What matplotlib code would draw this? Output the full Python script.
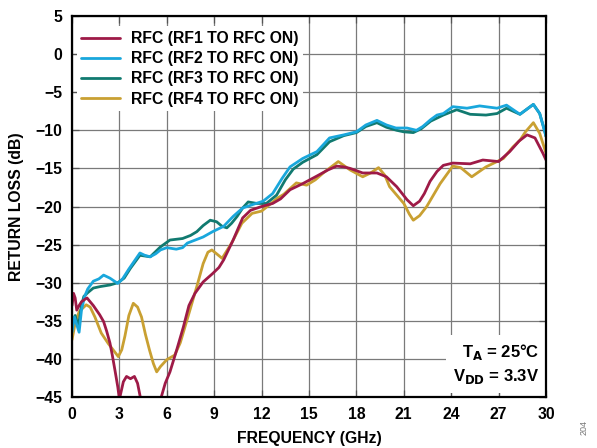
import matplotlib
matplotlib.use("Agg")
import matplotlib.pyplot as plt

# return loss vs frequency, one trace per RFx -> RFC path
rf1_freq = [0, 0.1, 0.2, 0.3, 0.45, 0.6, 0.8, 0.95, 1.15, 1.35, 1.55, 1.75, 2.0, 2.2,
            2.4, 2.55, 2.72, 2.9, 3.0, 3.25, 3.45, 3.7, 3.95, 4.15, 4.35, 4.5, 5.0, 5.5,
            5.65, 5.9, 6.2, 6.6, 7.05, 7.4, 7.78, 8.3, 8.9, 9.3, 9.6, 10.2, 10.8, 11.3,
            12.0, 12.7, 13.2, 13.8, 14.6, 15.5, 16.2, 16.75, 17.2, 17.6, 18.4, 19.3, 19.9,
            20.55, 21.2, 21.6, 22.0, 22.3, 22.66, 23.1, 23.5, 24.1, 25.2, 26.0, 27.0,
            27.7, 28.3, 28.8, 29.3, 29.8, 30.0]
rf1_loss = [-33.0, -31.4, -32.0, -33.6, -33.0, -32.5, -32.2, -32.0, -32.5, -33.0, -33.6,
            -34.2, -35.1, -36.4, -37.9, -39.5, -41.5, -43.7, -45.3, -43.0, -42.3, -42.6,
            -42.3, -43.2, -45.3, -47.0, -50.0, -47.0, -45.0, -43.2, -41.7, -39.0, -35.8,
            -33.0, -31.4, -29.9, -28.8, -28.0, -27.0, -24.4, -21.5, -20.5, -20.0, -19.6,
            -19.0, -17.8, -17.0, -16.0, -15.2, -14.7, -14.8, -15.0, -15.6, -15.6, -16.1,
            -17.4, -19.1, -19.9, -19.3, -18.3, -16.7, -15.4, -14.6, -14.3, -14.4, -13.9,
            -14.1, -12.8, -11.4, -10.6, -11.0, -13.0, -13.9]

rf2_freq = [0, 0.15, 0.3, 0.45, 0.6, 0.8, 1.0, 1.35, 1.7, 2.0, 2.4, 2.9, 3.2, 3.6, 4.0,
            4.3, 4.6, 4.95, 5.3, 5.6, 6.0, 6.6, 7.0, 7.3, 7.8, 8.3, 8.9, 9.6, 10.2, 10.8,
            11.5, 12.1, 12.7, 13.3, 13.8, 14.6, 15.5, 16.3, 17.2, 18.0, 18.6, 19.3, 19.9,
            20.5, 21.2, 21.8, 22.2, 22.7, 23.1, 23.5, 24.1, 25.0, 25.8, 26.9, 27.5, 28.35,
            29.2, 29.6, 29.9, 30.0]
rf2_loss = [-36.5, -34.5, -35.5, -36.5, -33.6, -31.8, -30.8, -29.8, -29.5, -29.0, -29.4,
            -30.1, -29.5, -28.2, -27.0, -26.1, -26.4, -26.6, -26.2, -25.7, -25.4, -25.6,
            -25.4, -24.8, -24.4, -24.0, -23.3, -22.6, -21.3, -20.2, -19.7, -19.3, -18.3,
            -16.3, -14.8, -13.7, -12.8, -11.0, -10.6, -10.2, -9.3, -8.7, -9.3, -9.7, -9.7,
            -10.0, -9.5, -8.6, -8.0, -7.8, -6.9, -7.1, -6.8, -7.1, -6.7, -7.9, -6.6, -7.8,
            -10.0, -10.8]

rf3_freq = [0, 0.2, 0.4, 0.6, 0.75, 1.0, 1.35, 1.8, 2.4, 2.9, 3.3, 3.7, 4.3, 4.95, 5.6,
            6.2, 7.0, 7.5, 7.9, 8.3, 8.75, 9.15, 9.5, 9.8, 10.1, 10.45, 10.8, 11.15, 11.7,
            12.3, 12.95, 13.5, 14.0, 14.6, 15.5, 16.3, 17.2, 18.0, 18.6, 19.3, 19.9, 20.55,
            21.0, 21.6, 22.1, 22.7, 23.5, 24.35, 25.2, 26.2, 26.9, 27.5, 28.35, 29.2, 29.6,
            29.9, 30.0]
rf3_loss = [-35.5, -34.3, -35.8, -33.0, -31.8, -31.3, -30.7, -30.5, -30.3, -30.0, -29.4,
            -28.1, -26.4, -26.6, -25.3, -24.4, -24.2, -23.8, -23.3, -22.5, -21.8, -22.0,
            -22.6, -22.8, -22.2, -21.3, -20.2, -19.4, -19.6, -19.6, -18.5, -16.5, -15.1,
            -14.2, -13.2, -11.5, -10.7, -10.3, -9.5, -9.0, -9.6, -10.0, -10.2, -10.3, -9.8,
            -8.8, -8.0, -7.3, -7.9, -8.0, -7.8, -7.1, -7.9, -6.6, -7.8, -10.0, -10.8]

rf4_freq = [0, 0.2, 0.45, 0.9, 1.15, 1.45, 1.85, 2.3, 2.6, 2.93, 3.15, 3.35, 3.6, 3.88,
            4.15, 4.4, 4.65, 4.9, 5.15, 5.36, 5.6, 6.0, 6.5, 6.85, 7.35, 7.9, 8.3, 8.6,
            8.85, 9.15, 9.5, 10.1, 10.75, 11.4, 12.0, 12.6, 13.0, 13.4, 14.2, 14.85, 15.4,
            15.9, 16.85, 17.6, 18.4, 18.9, 19.4, 19.8, 20.1, 21.0, 21.35, 21.6, 22.0,
            22.45, 23.3, 24.1, 24.6, 25.3, 26.2, 27.3, 27.9, 28.35, 28.7, 29.2, 29.6, 30.0]
rf4_loss = [-37.5, -35.3, -33.8, -32.9, -33.2, -34.5, -36.6, -38.0, -38.8, -39.7, -38.8,
            -37.0, -34.3, -32.7, -33.2, -34.5, -36.8, -38.8, -40.6, -41.7, -41.0, -40.1,
            -39.5, -37.9, -34.4, -30.5, -27.5, -26.0, -25.7, -26.2, -26.8, -24.8, -22.2,
            -20.9, -20.6, -19.6, -18.9, -18.4, -16.9, -17.2, -16.5, -15.6, -14.1, -15.2,
            -16.1, -15.6, -14.9, -15.9, -17.4, -19.6, -21.0, -21.8, -21.2, -20.0, -17.0,
            -14.7, -14.9, -16.1, -14.8, -13.7, -12.2, -11.3, -10.2, -9.0, -10.4, -13.0]

labels = ["RFC (RF1 TO RFC ON)", "RFC (RF2 TO RFC ON)",
          "RFC (RF3 TO RFC ON)", "RFC (RF4 TO RFC ON)"]
colors = ["#9e1a47", "#19a7dc", "#117a70", "#c9a032"]
xticks = list(range(0, 31, 3))
yticks = list(range(-45, 6, 5))

plt.rcParams["font.family"] = ["Liberation Sans", "DejaVu Sans"]
plt.rcParams["font.weight"] = "bold"

fig = plt.figure(figsize=(5.97, 4.48), dpi=100)
ax = fig.add_axes([0.1206, 0.1138, 0.794, 0.8505])

series = [(rf1_freq, rf1_loss), (rf2_freq, rf2_loss),
          (rf3_freq, rf3_loss), (rf4_freq, rf4_loss)]
zorders = [6, 5, 4, 3]
for (f, l), lab, c, z in zip(series, labels, colors, zorders):
    ax.plot(f, l, color=c, lw=2.0, label=lab, zorder=z,
            solid_joinstyle="round", solid_capstyle="round")

ax.set_xlim(0, 30)
ax.set_ylim(-45, 5)
ax.set_xticks(xticks)
ax.set_yticks(yticks)
ax.grid(True, color="#7a7a7a", lw=0.9, zorder=0)
ax.set_axisbelow(True)
ax.tick_params(direction="in", length=5, width=0.9, top=True, right=True,
               labelsize=11.3, pad=7, color="#555555")
for lab in ax.get_xticklabels() + ax.get_yticklabels():
    lab.set_fontweight("bold")
for s in ax.spines.values():
    s.set_linewidth(1.6)
    s.set_zorder(10)

ax.set_xlabel("FREQUENCY (GHz)", fontsize=11.3, fontweight="bold", labelpad=7)
ax.set_ylabel("RETURN LOSS (dB)", fontsize=11.3, fontweight="bold", labelpad=8)

leg = ax.legend(loc="upper left", bbox_to_anchor=(0.0, 0.985), frameon=True,
                fontsize=11.3, handlelength=2.45, handletextpad=0.7,
                labelspacing=0.33, borderpad=0.3, borderaxespad=0.3)
leg.get_frame().set_edgecolor("none")
leg.get_frame().set_facecolor("white")
leg.get_frame().set_alpha(1.0)
leg.set_zorder(8)

ax.text(0.985, 0.03, "T$_\\mathbf{A}$ = 25°C\nV$_\\mathbf{DD}$ = 3.3V",
        transform=ax.transAxes, ha="right", va="bottom", fontsize=12,
        fontweight="bold", linespacing=1.3, zorder=8,
        bbox=dict(facecolor="white", edgecolor="none", pad=5))

fig.text(0.978, 0.045, "204", rotation=90, fontsize=6.5, color="#777777",
         fontweight="normal", ha="center", va="center")

fig.savefig("out.png", dpi=100)
